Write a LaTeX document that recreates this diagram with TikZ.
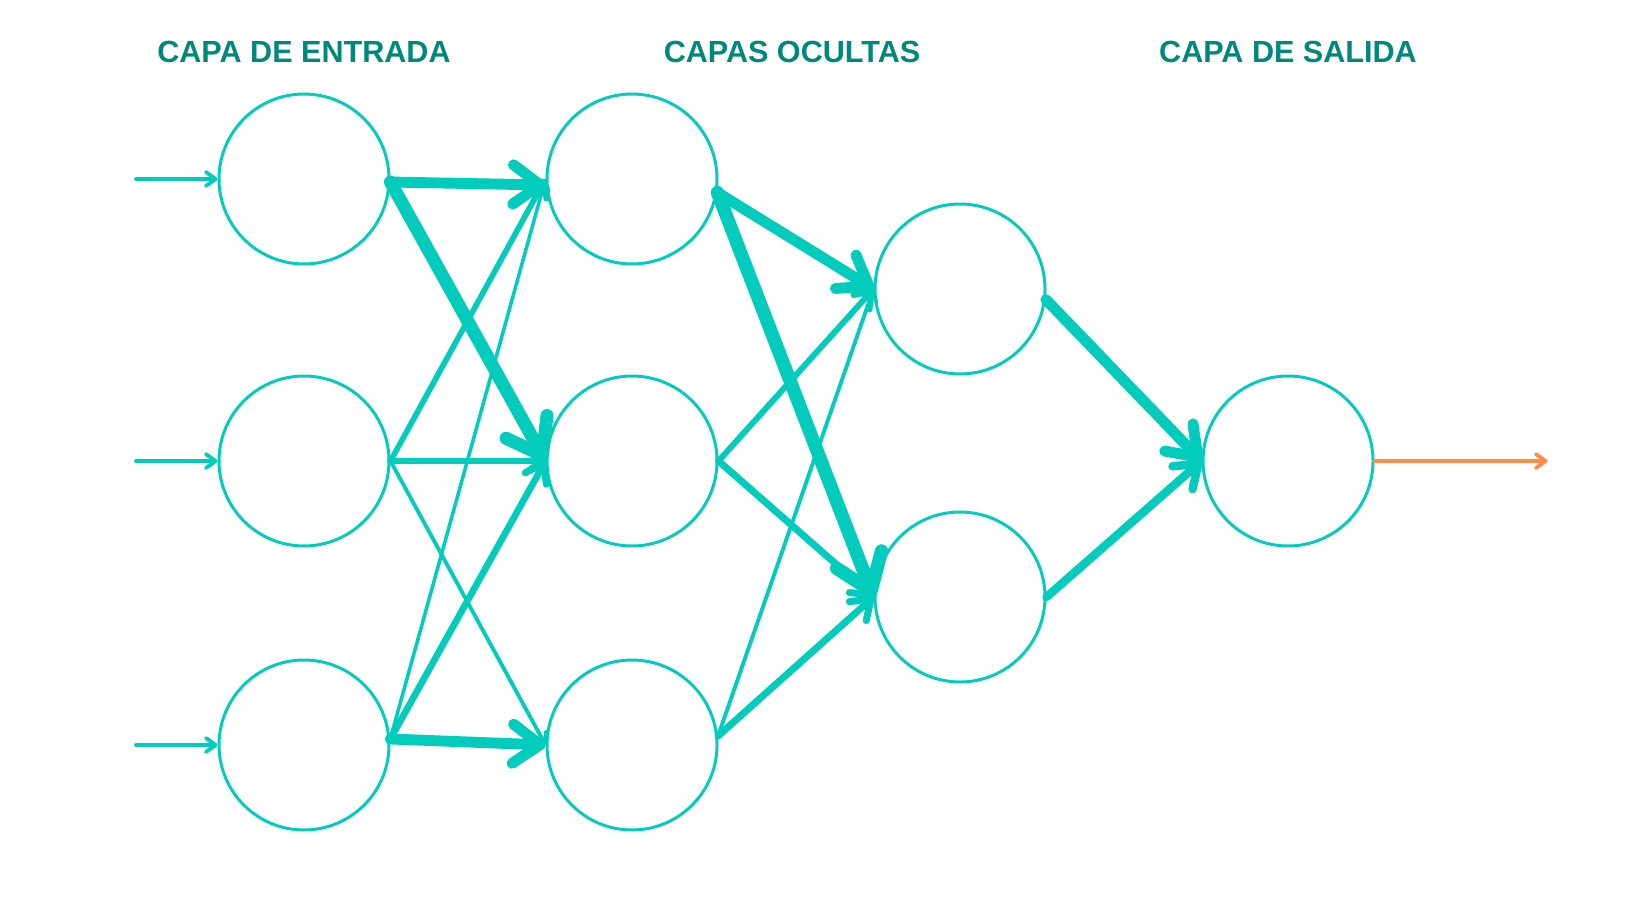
\documentclass[tikz,border=0pt]{standalone}
\usepackage{fontspec}
\setmainfont{Liberation Sans}
\usetikzlibrary{arrows.meta}
\definecolor{netTeal}{HTML}{03CCBC}
\definecolor{titleTeal}{HTML}{00897B}
\definecolor{outOrange}{HTML}{FF8C47}

\begin{document}
\begin{tikzpicture}[
    neuron/.style={circle, draw=netTeal, line width=0.85pt, minimum size=1.7cm, inner sep=0pt},
    layertitle/.style={text=titleTeal, font=\fontsize{8.7}{10}\selectfont\bfseries},
    weight/.style={draw=netTeal, line cap=round, line width=#1,
      -{Straight Barb[round, length=0pt 2.5, width=0pt 3.6]}}]
    \useasboundingbox (0,0) rectangle (16.4,-9.24);
    % titulos de las capas
    \node[layertitle] (tin) at (3.04,-0.52) {CAPA DE ENTRADA};
    \node[layertitle] (thid) at (7.92,-0.52) {CAPAS OCULTAS};
    \node[layertitle] (tout) at (12.88,-0.52) {CAPA DE SALIDA};
    % neuronas
    \foreach \k/\y in {1/1.79,2/4.61,3/7.45} {
        \node[neuron] (i\k) at (3.04,-\y) {};
        \node[neuron] (h\k) at (6.32,-\y) {};
        \coordinate (s\k) at ([xshift=-1.68cm]i\k.center);
        \draw[weight=1.1pt] (s\k) -- (i\k.west);
    }
    \node[neuron] (g1) at (9.60,-2.89) {};
    \node[neuron] (g2) at (9.60,-5.97) {};
    \node[neuron] (o) at (12.88,-4.61) {};
    % entrada -> primera oculta
    \draw[weight=3.1pt] (i1.-2) -- (h1.184);
    \draw[weight=3.7pt] (i1.-2) -- (h2.west);
    \draw[weight=1.6pt] (i2.east) -- (h1.west);
    \draw[weight=1.9pt] (i2.east) -- (h2.west);
    \draw[weight=1.1pt] (i2.east) -- (h3.west);
    \draw[weight=1.0pt] (i3.4) -- (h1.west);
    \draw[weight=1.9pt] (i3.4) -- (h2.west);
    \draw[weight=3.1pt] (i3.4) -- (h3.west);
    % primera oculta -> segunda oculta
    \draw[weight=3.1pt] (h1.-9) -- (g1.west);
    \draw[weight=3.8pt] (h1.-9) -- (g2.west);
    \draw[weight=1.7pt] (h2.east) -- (g1.west);
    \draw[weight=2.0pt] (h2.east) -- (g2.west);
    \draw[weight=1.1pt] (h3.6) -- (g1.west);
    \draw[weight=2.0pt] (h3.6) -- (g2.west);
    % segunda oculta -> salida
    \draw[weight=3.1pt] (g1.-7) -- (o.west);
    \draw[weight=2.4pt] (g2.east) -- (o.west);
    \coordinate (out) at ([xshift=1.73cm]o.east);
    \draw[weight=1.1pt, draw=outOrange] (o.east) -- (out);
\end{tikzpicture}
\end{document}
